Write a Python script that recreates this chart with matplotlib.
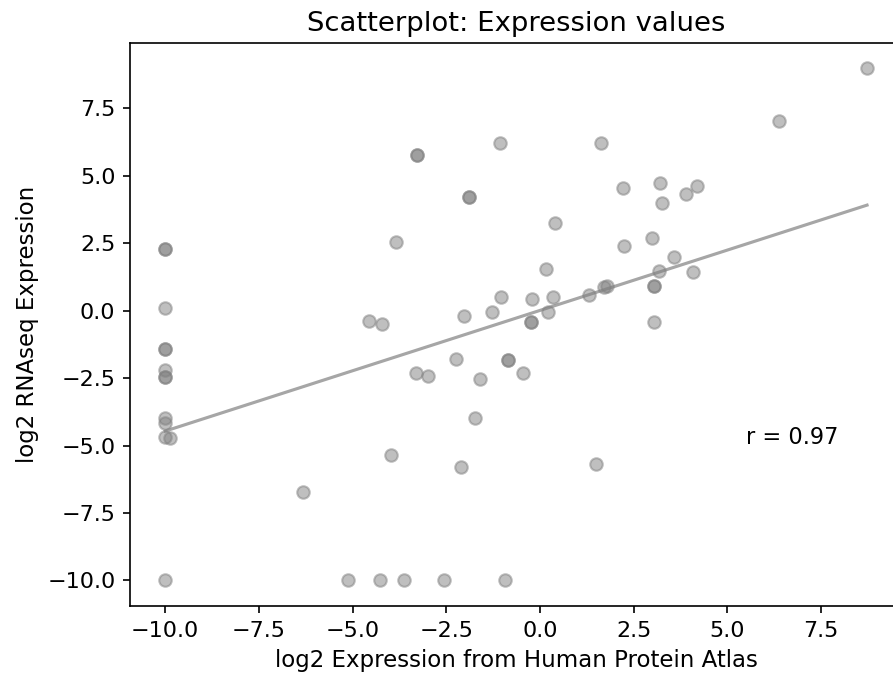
import matplotlib
matplotlib.use("Agg")
import matplotlib.pyplot as plt
import numpy as np

# log2 expression values
hpa = [-10, -10, -10, -10, -10, -10, -10, -10, -10, -10, -10, -9.87, -10,
       -3.27, -3.27, -1.06, -1.9, -1.9, -3.84, -1.03, -1.27, -2.03, -4.55, -4.21,
       8.73, 6.38, 1.64, 2.23, 3.2, 4.2, 3.9, 3.25, 0.39, 2.24, 3.0, 3.59,
       3.17, 4.09, 0.15, -0.2, 0.36, 0.21, -0.23, -0.23, 1.32, 1.7, 1.8,
       3.04, 3.04, 3.04, -2.23, -0.86, -0.86, -3.31, -2.98, -1.61, -1.72,
       -0.45, -3.97, -2.11, -6.33, 1.49,
       -5.13, -4.28, -3.64, -2.57, -0.92]
rnaseq = [2.28, 2.28, 0.09, -1.42, -1.42, -2.2, -2.47, -2.47, -3.99, -4.17, -4.7, -4.72, -10,
          5.76, 5.76, 6.21, 4.21, 4.21, 2.54, 0.5, -0.07, -0.21, -0.4, -0.49,
          8.98, 7.04, 6.21, 4.53, 4.72, 4.62, 4.31, 3.99, 3.24, 2.4, 2.68, 2.0,
          1.48, 1.44, 1.53, 0.42, 0.5, -0.07, -0.41, -0.41, 0.58, 0.86, 0.92,
          0.91, 0.91, -0.43, -1.78, -1.84, -1.84, -2.33, -2.41, -2.53, -3.97,
          -2.31, -5.34, -5.8, -6.73, -5.69,
          -10, -10, -10, -10, -10]

# fitted line as shown
slope = 0.447
intercept = 0.005
r_value = 0.97

x = np.array(hpa)
y = np.array(rnaseq)

fig = plt.figure(figsize=(893 / 150, 681 / 150), dpi=150)
ax = fig.add_axes([0.1456, 0.110, 0.8656, 0.8263])

ax.scatter(x, y, s=36, color="gray", alpha=0.5)

xl = np.array([x.min(), x.max()])
ax.plot(xl, slope * xl + intercept, color="gray", alpha=0.7, linewidth=1.5)

ax.text(5.5, -4.7, "r = %.2f" % r_value, va="center", fontsize=10.8)

ax.set_xlim(-10.94, 9.69)
ax.set_ylim(-10.95, 9.9)
ax.set_xticks([-10, -7.5, -5, -2.5, 0, 2.5, 5, 7.5])
ax.set_yticks([-10, -7.5, -5, -2.5, 0, 2.5, 5, 7.5])
ax.tick_params(labelsize=10.7)

ax.set_xlabel("log2 Expression from Human Protein Atlas", fontsize=11)
ax.set_ylabel("log2 RNAseq Expression", fontsize=11)
ax.set_title("Scatterplot: Expression values", fontsize=13.2)

fig.savefig("out.png", dpi=150)
